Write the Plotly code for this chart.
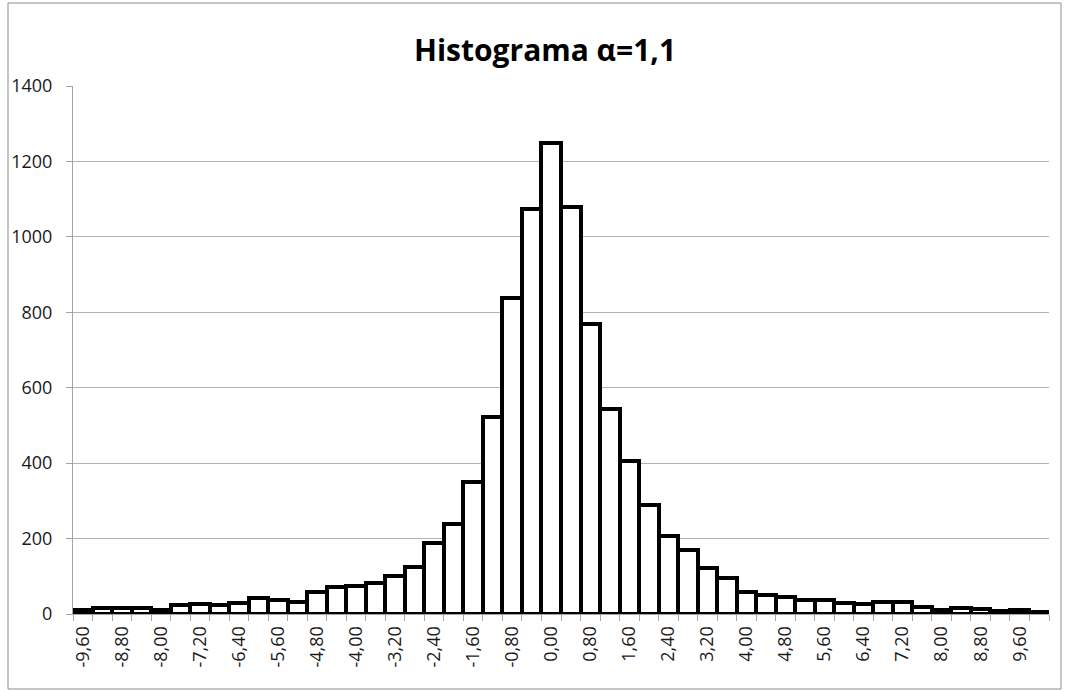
import plotly.graph_objects as go

# Bin centres (category labels as shown in the chart, comma decimal)
bin_labels = ["-9,60", "-9,20", "-8,80", "-8,40", "-8,00", "-7,60", "-7,20", "-6,80", "-6,40", "-6,00",
              "-5,60", "-5,20", "-4,80", "-4,40", "-4,00", "-3,60", "-3,20", "-2,80", "-2,40", "-2,00",
              "-1,60", "-1,20", "-0,80", "-0,40", "0,00", "0,40", "0,80", "1,20", "1,60", "2,00",
              "2,40", "2,80", "3,20", "3,60", "4,00", "4,40", "4,80", "5,20", "5,60", "6,00",
              "6,40", "6,80", "7,20", "7,60", "8,00", "8,40", "8,80", "9,20", "9,60", "10,00"]

counts = [11, 16, 15, 15, 10, 24, 27, 24, 29, 42,
          36, 33, 58, 72, 75, 83, 100, 124, 187, 238,
          350, 522, 837, 1075, 1250, 1079, 769, 543, 405, 290,
          208, 171, 121, 95, 58, 51, 44, 36, 36, 29,
          26, 31, 31, 18, 11, 15, 12, 8, 10, 5]

y_ticks = [0, 200, 400, 600, 800, 1000, 1200, 1400]

x_vals = [float(s.replace(",", ".")) for s in bin_labels]
bin_w = 0.4
shown_vals = x_vals[::2]
shown_text = bin_labels[::2]
boundaries = [v - bin_w / 2 for v in x_vals] + [x_vals[-1] + bin_w / 2]

FONT = "Open Sans, Liberation Sans, sans-serif"

fig = go.Figure()
fig.add_trace(go.Bar(
    x=x_vals, y=counts, width=bin_w,
    marker=dict(color="white", line=dict(color="black", width=4)),
    hoverinfo="x+y",
))

fig.update_layout(
    width=1068, height=692,
    paper_bgcolor="white", plot_bgcolor="white",
    margin=dict(l=73, r=19, t=86, b=78),
    showlegend=False,
    bargap=0,
    title=dict(text="<b>Histograma α=1,1</b>", x=545 / 1068, xref="container", xanchor="center",
               y=1 - 50 / 692, yref="container", yanchor="middle",
               font=dict(family=FONT, size=30, color="black")),
    font=dict(family=FONT, size=18, color="#1a1a1a"),
)

fig.update_xaxes(
    range=[x_vals[0] - bin_w / 2, x_vals[-1] + bin_w / 2],
    tickmode="array", tickvals=shown_vals, ticktext=shown_text,
    tickangle=-90, ticks="", showgrid=False,
    showline=True, linecolor="#a6a6a6", linewidth=1,
    tickfont=dict(family=FONT, size=18, color="#1a1a1a"),
    ticklabelstandoff=4,
    minor=dict(tickmode="array", tickvals=boundaries, ticks="outside", ticklen=6,
               tickcolor="#a6a6a6", tickwidth=1, showgrid=False),
    zeroline=False,
)

fig.update_yaxes(
    range=[0, 1400], tickmode="array", tickvals=y_ticks,
    showgrid=True, gridcolor="#b3b3b3", gridwidth=1,
    showline=True, linecolor="#a6a6a6", linewidth=1,
    ticks="outside", ticklen=6, tickcolor="#a6a6a6",
    tickfont=dict(family=FONT, size=18, color="#1a1a1a"),
    ticklabelstandoff=10,
    zeroline=False,
)

# outer chart border
fig.add_shape(type="rect", xref="paper", yref="paper",
              x0=(8 - 73) / 976, x1=(1061 - 73) / 976,
              y0=(614 - 689) / 528, y1=(614 - 3) / 528,
              line=dict(color="#8c8c8c", width=1), fillcolor="rgba(0,0,0,0)", layer="below")

fig.write_html("out.html")
